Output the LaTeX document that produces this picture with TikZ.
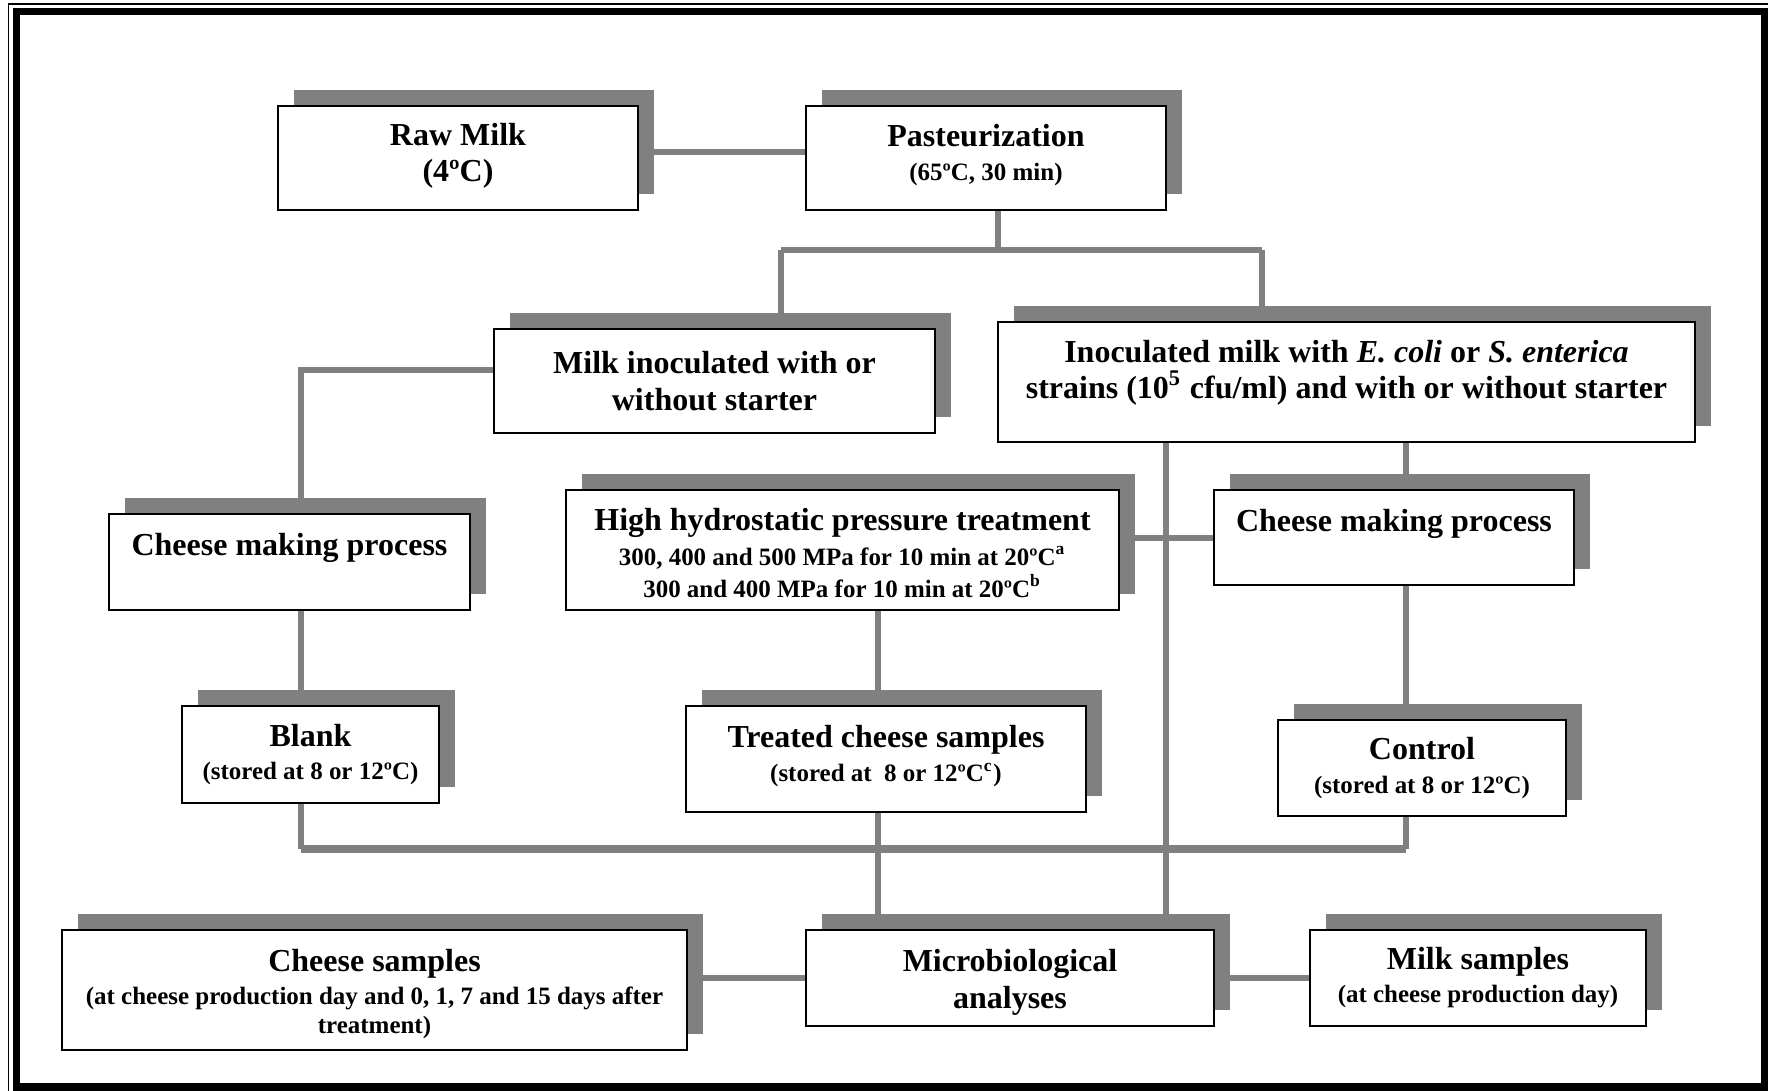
\documentclass[tikz,border=0pt]{standalone}
\usepackage{fontspec}
\setmainfont{Liberation Serif}
\usetikzlibrary{fit,backgrounds}
\definecolor{lg}{HTML}{808080}
\newcommand\mainf{\fontsize{9.1}{10.4}\selectfont\bfseries}
\newcommand\subf{\fontsize{7.1}{8.6}\selectfont\bfseries}
\newcommand\dg{º}
\begin{document}
\begin{tikzpicture}[x=0.01cm,y=-0.01cm,
 boxst/.style={draw=black, line width=0.02cm, fill=white, inner sep=0pt, outer sep=0pt},
 conn/.style={draw=lg, line width=0.06cm},
 connb/.style={draw=lg, line width=0.085cm},
 shadowst/.style={fill=lg},
 txt/.style={align=center, inner sep=0pt, font=\mainf},
 framethick/.style={draw=black, line width=0.07cm},
 framethin/.style={draw=black, line width=0.013cm}]
\useasboundingbox (0,0) rectangle (1768,1091);
\begin{scope}
\clip (0,0) rectangle (1768,1091);
\draw[framethin] (8.7,4) rectangle (1800,1120);
\draw[framethick] (16.7,12) rectangle (1764.5,1087);
\end{scope}
% boxes
\node[boxst, fit={(278,106)(638,210)}] (raw) {};
\node[boxst, fit={(806,106)(1166,210)}] (past) {};
\node[boxst, fit={(494,329)(935,433)}] (milkinoc) {};
\node[boxst, fit={(998,322)(1695,442)}] (inoc) {};
\node[boxst, fit={(109,514)(470,610)}] (cheeseL) {};
\node[boxst, fit={(566,490)(1119,610)}] (hhp) {};
\node[boxst, fit={(1214,490)(1574,585)}] (cheeseR) {};
\node[boxst, fit={(182,706)(439,803)}] (blank) {};
\node[boxst, fit={(686,706)(1086,812)}] (treated) {};
\node[boxst, fit={(1278,720)(1566,816)}] (control) {};
\node[boxst, fit={(62,930)(687,1050)}] (cheeseS) {};
\node[boxst, fit={(806,930)(1214,1026)}] (micro) {};
\node[boxst, fit={(1310,930)(1646,1026)}] (milkS) {};
% texts
\node[txt, yshift=0.02cm] (raw-t) at (raw.center) {Raw Milk\\(4\dg C)};
\node[txt, yshift=0.03cm] (past-t) at (past.center) {Pasteurization\\[-0.6pt]{\subf (65\dg C, 30 min)}};
\node[txt] (milkinoc-t) at (milkinoc.center) {Milk inoculated with or\\without starter};
\node[txt, yshift=0.09cm] (inoc-t) at (inoc.center) {Inoculated milk with \textit{E. coli} or \textit{S. enterica}\\strains (10\textsuperscript{5} cfu/ml) and with or without starter};
\node[txt, yshift=0.14cm] (cheeseL-t) at (cheeseL.center) {Cheese making process};
\node[txt, yshift=0.14cm] (cheeseR-t) at (cheeseR.center) {Cheese making process};
\node[txt, yshift=-0.03cm] (hhp-t) at (hhp.center) {High hydrostatic pressure treatment\\[-0.6pt]{\subf 300, 400 and 500 MPa for 10 min at 20\dg C\textsuperscript{a}}\\[-1.3pt]{\subf 300 and 400 MPa for 10 min at 20\dg C\textsuperscript{b}}};
\node[txt] (blank-t) at (blank.center) {Blank\\[-0.8pt]{\subf (stored at 8 or 12\dg C)}};
\node[txt, yshift=0.03cm] (treated-t) at (treated.center) {Treated cheese samples\\[-0.6pt]{\subf (stored at\ \ 8 or 12\dg C\textsuperscript{c})}};
\node[txt] (control-t) at (control.center) {Control\\[-0.8pt]{\subf (stored at 8 or 12\dg C)}};
\node[txt, yshift=-0.04cm] (cheeseS-t) at (cheeseS.center) {Cheese samples\\[-1.2pt]{\subf (at cheese production day and 0, 1, 7 and 15 days after}\\[-2.2pt]{\subf treatment)}};
\node[txt, yshift=-0.045cm] (micro-t) at (micro.center) {Microbiological\\analyses};
\node[txt] (milkS-t) at (milkS.center) {Milk samples\\[-1pt]{\subf (at cheese production day)}};
% junction coordinates
\coordinate (j1) at (998,250);
\coordinate (j1l) at (781,250);
\coordinate (j1r) at (1262,250);
\coordinate (j2) at (301,370);
\coordinate (b1) at (301,849);
\coordinate (b2) at (1406,849);
\coordinate (tx) at (878,849);
\coordinate (ix) at (1166,849);
\coordinate (hy) at (1166,538);
\begin{pgfonlayer}{background}
\foreach \n in {raw,past,milkinoc,inoc,cheeseL,hhp,cheeseR,blank,treated,control,cheeseS,micro,milkS}
  \fill[shadowst] ([shift={(16,-16)}]\n.north west) rectangle ([shift={(16,-16)}]\n.south east);
\draw[conn] ([yshift=0.06cm]raw.east) -- ([yshift=0.06cm]past.west);
\draw[conn] (past.south -| j1) -- (j1);
\draw[conn] (j1l) -- (j1r);
\draw[conn] (j1l) -- (milkinoc.north -| j1l);
\draw[conn] (j1r) -- (inoc.north -| j1r);
\draw[conn] (milkinoc.west |- j2) -- (j2) -- (cheeseL.north -| j2);
\draw[conn] (cheeseL.south -| j2) -- (blank.north -| j2);
\draw[conn] (blank.south -| b1) -- (b1);
\draw[conn] (control.south -| b2) -- (b2);
\draw[connb] (b1) -- (b2);
\draw[conn] (hhp.south -| tx) -- (treated.north -| tx);
\draw[conn] (treated.south -| tx) -- (micro.north -| tx);
\draw[conn] (inoc.south -| ix) -- (micro.north -| ix);
\draw[conn] (inoc.south -| b2) -- (cheeseR.north -| b2);
\draw[conn] (cheeseR.south -| b2) -- (control.north -| b2);
\draw[conn] (hhp.east |- hy) -- (cheeseR.west |- hy);
\draw[conn] (cheeseS.east |- micro.west) -- (micro.west);
\draw[conn] (micro.east) -- (milkS.west);
\end{pgfonlayer}
\end{tikzpicture}
\end{document}
